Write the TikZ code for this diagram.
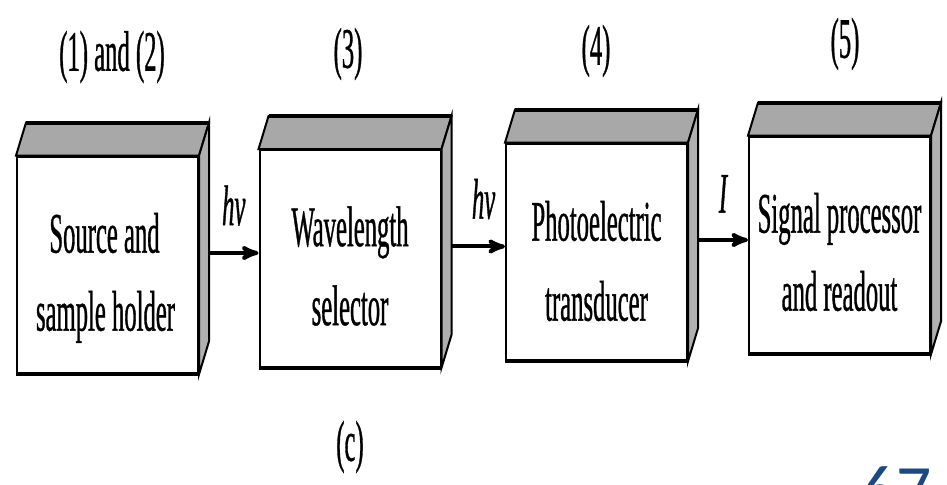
\documentclass[tikz,border=0pt]{standalone}
\usepackage{fontspec}
\newfontfamily\bookfont{Liberation Serif}[FakeStretch=0.43, FakeBold=0.6]
\newfontfamily\slidefont{Carlito}
\usetikzlibrary{arrows, positioning}
\definecolor{slideblue}{RGB}{31,73,125}

\begin{document}
\begin{tikzpicture}[x=0.75pt, y=0.75pt]
    \tikzset{
        front/.style={draw, line width=1.5pt, fill=white, inner sep=0pt, minimum width=135.75pt, minimum height=162.5pt},
        topface/.style={draw, line width=1.5pt, fill=gray!68},
        sideface/.style={draw, line width=1.5pt, fill=gray!62},
        caption/.style={font=\bookfont\fontsize{43}{52}\selectfont, inner sep=0pt},
        edge/.style={->, >=stealth', line width=3pt}
    }
    \clip (0,0) rectangle (947,485);
    \fill[white] (0,0) rectangle (947,485);

    % Front faces
    \node[front] (src) at (107.5,220) {};
    \node[front] (sel) at (350,226.5) {};
    \node[front] (det) at (596.5,233) {};
    \node[front] (out) at (839.5,240) {};

    % Top and side faces
    \foreach \b in {src, sel, det, out} {
        \draw[topface] (\b.north west) -- ++(10,33) -- ([shift={(10,33)}]\b.north east) -- (\b.north east) -- cycle;
        \draw[sideface] (\b.north east) -- ++(10,33) -- ([shift={(10,33)}]\b.south east) -- (\b.south east) -- cycle;
        \draw[line width=3pt] ([shift={(10,33)}]\b.north west) -- ([shift={(10,33)}]\b.north east);
        \draw[line width=3pt] (\b.south west) -- (\b.south east);
    }

    % Box texts
    \node[caption, anchor=base] (src1) at ([shift={(-3,-97)}]src.north) {Source and};
    \node[caption, anchor=base] (src2) at ([shift={(-2,-175)}]src.north) {sample holder};
    \node[caption, anchor=base] (sel1) at ([shift={(0,-97)}]sel.north) {Wavelength};
    \node[caption, anchor=base] (sel2) at ([shift={(0,-176)}]sel.north) {selector};
    \node[caption, anchor=base] (det1) at ([shift={(0,-98)}]det.north) {Photoelectric};
    \node[caption, anchor=base] (det2) at ([shift={(0,-178)}]det.north) {transducer};
    \node[caption, anchor=base] (out1) at ([shift={(0,-97)}]out.north) {Signal processor};
    \node[caption, anchor=base] (out2) at ([shift={(0,-175)}]out.north) {and readout};

    % Edges
    \coordinate (a1) at ([shift={(10,12)}]src.east);
    \coordinate (a2) at ([shift={(10,12)}]sel.east);
    \coordinate (a3) at ([shift={(10,12)}]det.east);
    \draw[edge] (a1) -- node[caption, above=19pt] (hv1) {\itshape hν} (a1 -| sel.west);
    \draw[edge] (a2) -- node[caption, above=19pt, xshift=4pt] (hv2) {\itshape hν} (a2 -| det.west);
    \draw[edge] (a3) -- node[caption, above=19pt] (cur) {\itshape I} (a3 -| out.west);

    % Tags
    \node[caption] (tag12) at (112,428) {(1) and (2)};
    \node[caption] (tag3) at (348,431) {(3)};
    \node[caption] (tag4) at (596,434) {(4)};
    \node[caption] (tag5) at (845,441) {(5)};
    \node[caption] (part) at (350,38) {(c)};
    \node[font=\slidefont\fontsize{52}{52}\selectfont, text=slideblue, anchor=north, inner sep=0pt] (page) at (896,19) {67};
\end{tikzpicture}
\end{document}
